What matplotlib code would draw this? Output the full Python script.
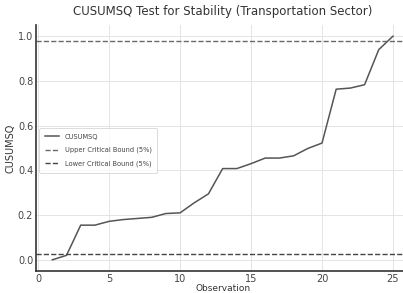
import matplotlib
matplotlib.use("Agg")
import matplotlib.pyplot as plt

observations = list(range(1, 26))
cusumsq = [0.0, 0.02, 0.155, 0.155, 0.172, 0.18, 0.185, 0.19, 0.207, 0.21,
           0.255, 0.295, 0.408, 0.408, 0.43, 0.455, 0.455, 0.465, 0.498, 0.522,
           0.763, 0.768, 0.783, 0.94, 1.0]
upper_bound = 0.977
lower_bound = 0.025

fig = plt.figure(figsize=(4.03, 2.93), dpi=100)
ax = fig.add_axes([36/403, 22/293, 374/403, 246/293])

ax.plot(observations, cusumsq, color="#555555", lw=1.1, label="CUSUMSQ")
ax.axhline(upper_bound, color="#6a6a6a", ls="--", lw=1.0, label="Upper Critical Bound (5%)")
ax.axhline(lower_bound, color="#444444", ls="--", lw=1.0, label="Lower Critical Bound (5%)")

ax.set_xlim(-0.15, 26.2)
ax.set_ylim(-0.05, 1.05)
ax.set_xticks([0, 5, 10, 15, 20, 25])
ax.set_yticks([0.0, 0.2, 0.4, 0.6, 0.8, 1.0])
ax.grid(True, color="#e4e4e4", lw=0.7)
for s in ["top", "right"]:
    ax.spines[s].set_visible(False)
for s in ["left", "bottom"]:
    ax.spines[s].set_color("#333333")
    ax.spines[s].set_linewidth(1.2)
ax.tick_params(labelsize=7, colors="#444444", length=0, pad=2)
ax.set_title("CUSUMSQ Test for Stability (Transportation Sector)", fontsize=8.5, color="#333333", pad=7)
ax.set_xlabel("Observation", fontsize=6.5, color="#333333", labelpad=0)
ax.set_ylabel("CUSUMSQ", fontsize=7, color="#333333", labelpad=2)
leg = ax.legend(loc="center left", fontsize=4.8, frameon=True, handlelength=2.2,
                borderpad=0.8, labelspacing=1.1, handletextpad=0.8,
                bbox_to_anchor=(0.0, 0.49))
leg.get_frame().set_edgecolor("#cccccc")
leg.get_frame().set_linewidth(0.6)
for t in leg.get_texts():
    t.set_color("#444444")

fig.savefig("out.png", dpi=100)
